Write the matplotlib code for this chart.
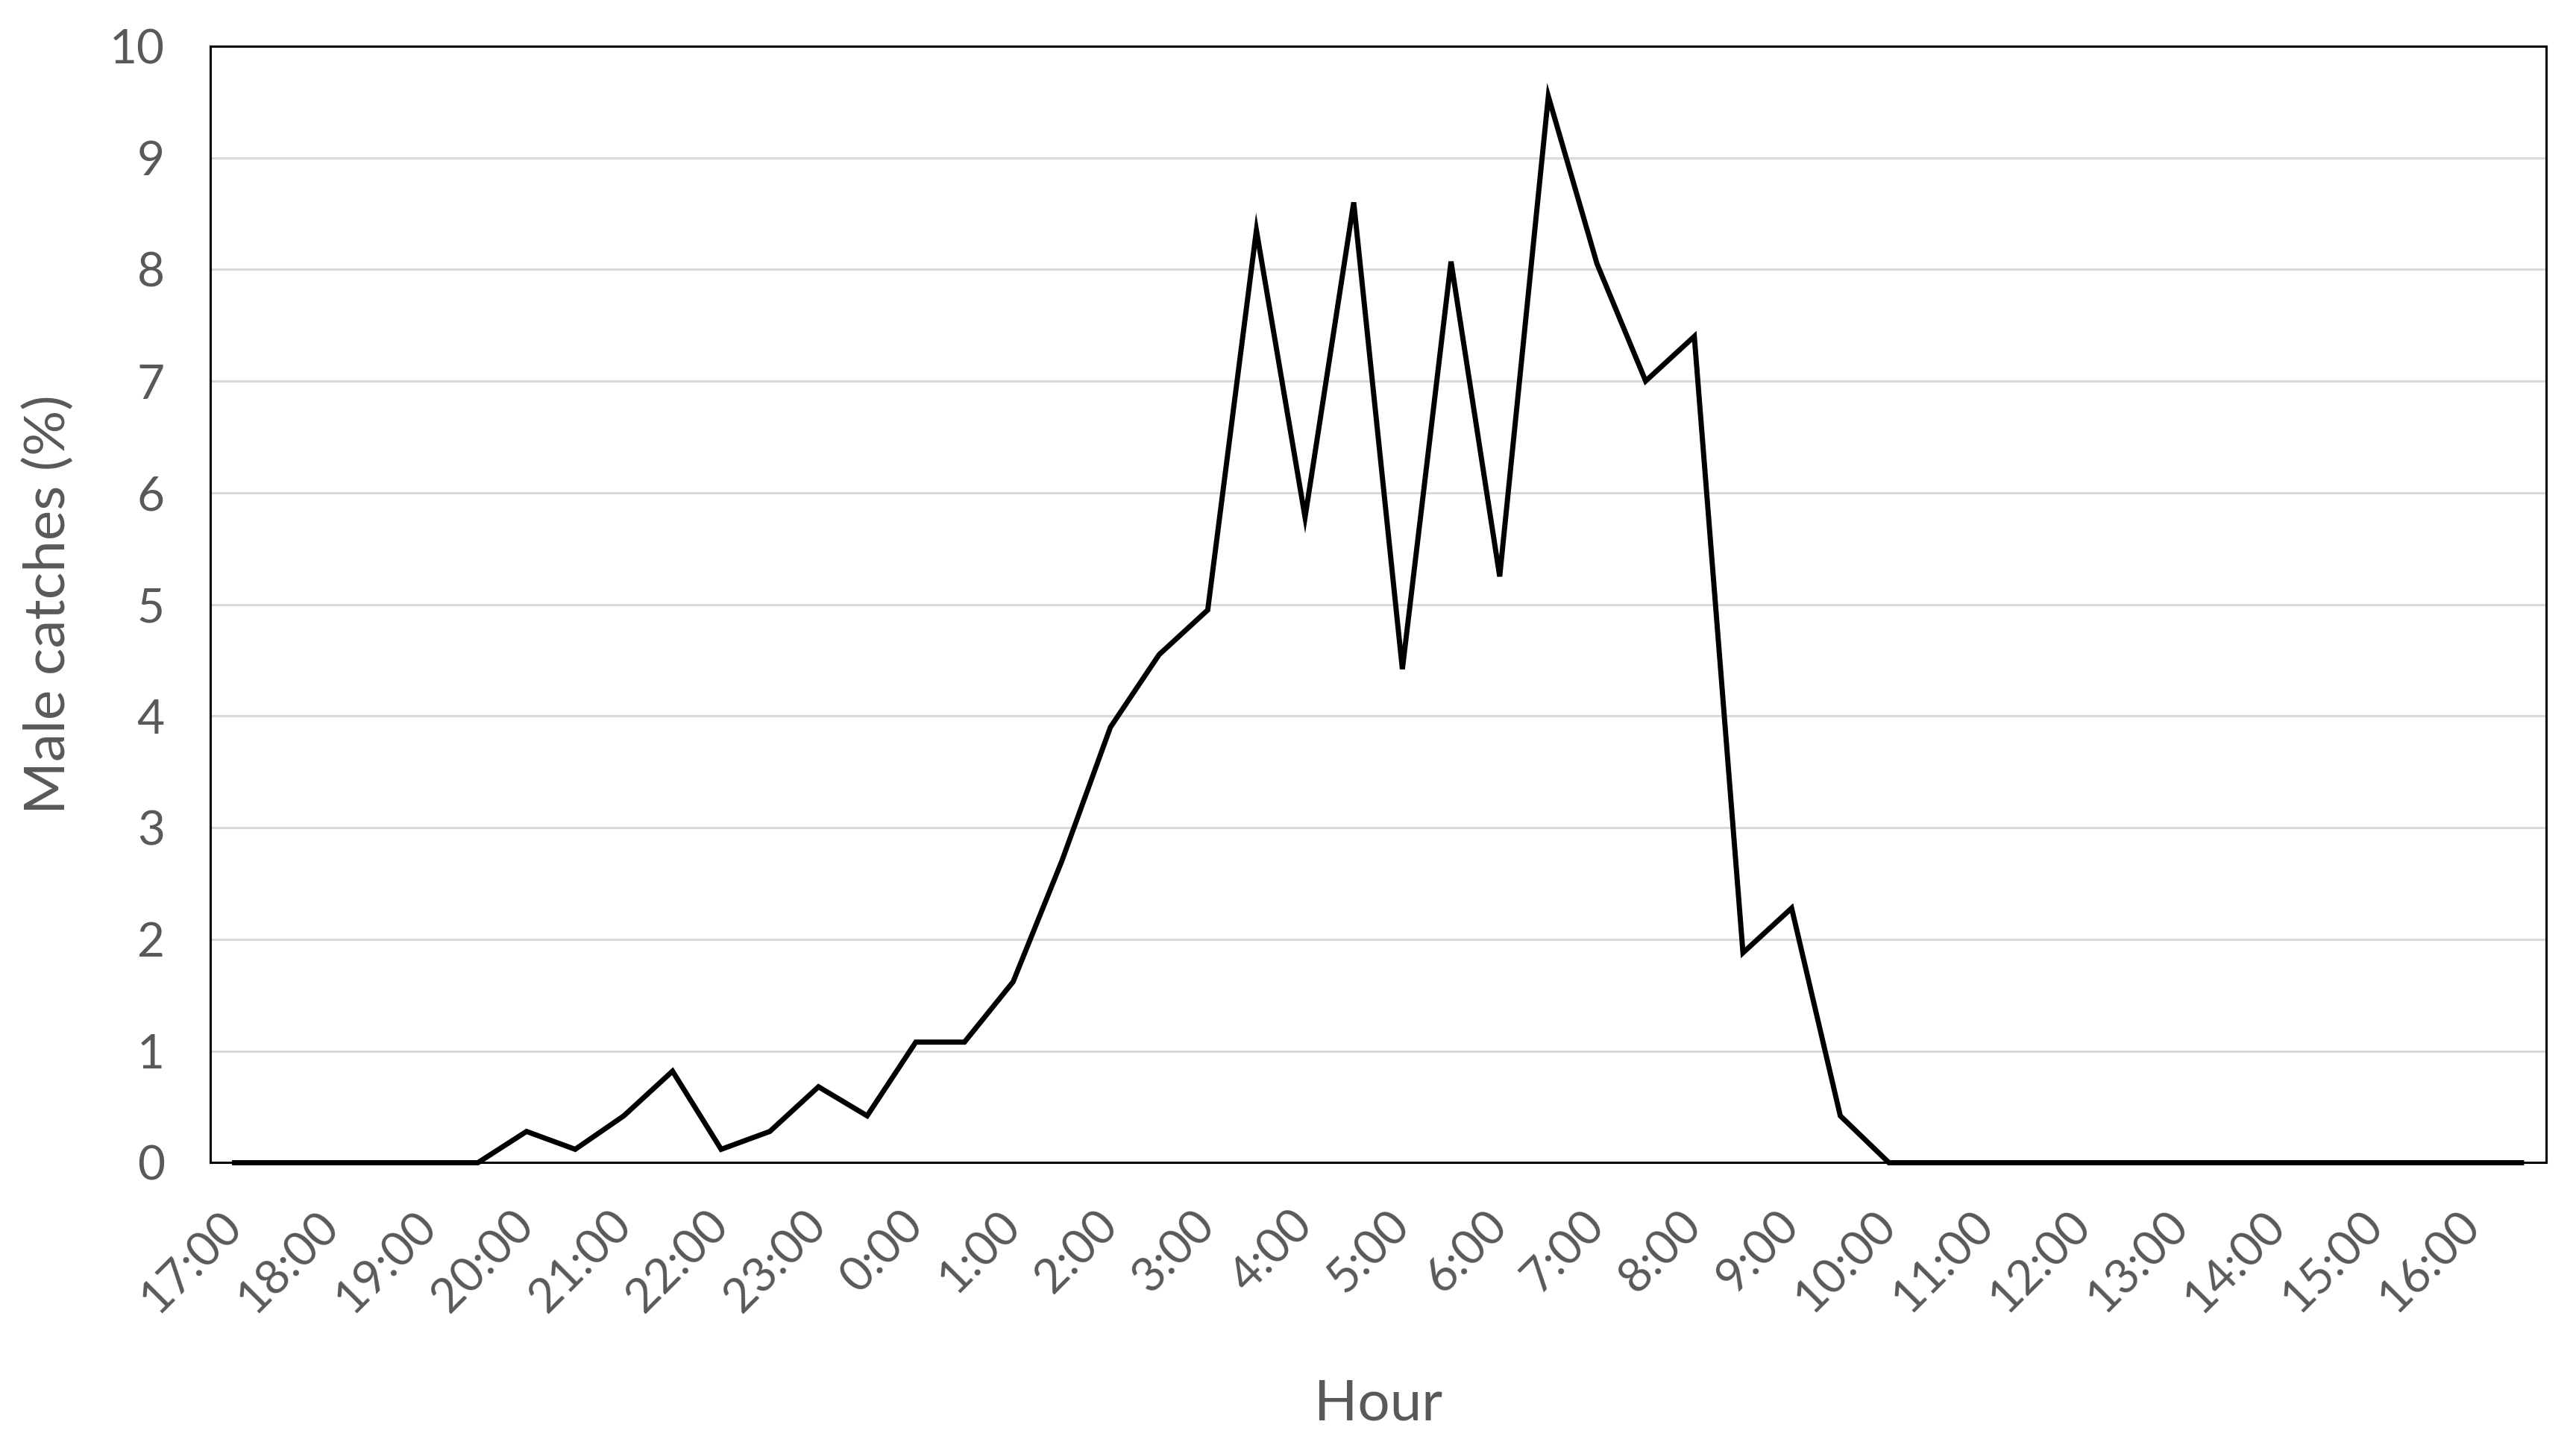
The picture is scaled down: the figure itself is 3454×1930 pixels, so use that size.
import numpy as np
import matplotlib.pyplot as plt

# half-hour slots from 17:00 to 16:30
slots = np.arange(48)
male_catches = [0, 0, 0, 0, 0, 0, 0.28, 0.12, 0.42, 0.82,
                0.12, 0.28, 0.68, 0.42, 1.08, 1.08, 1.62, 2.70, 3.90, 4.55,
                4.95, 8.35, 5.78, 8.60, 4.42, 8.07, 5.25, 9.55, 8.05, 7.00,
                7.40, 1.88, 2.28, 0.42, 0, 0, 0, 0, 0, 0,
                0, 0, 0, 0, 0, 0, 0, 0]
hour_labels = ['17:00', '18:00', '19:00', '20:00', '21:00', '22:00', '23:00',
               '0:00', '1:00', '2:00', '3:00', '4:00', '5:00', '6:00', '7:00',
               '8:00', '9:00', '10:00', '11:00', '12:00', '13:00', '14:00',
               '15:00', '16:00']

grey = '#595959'
plt.rcParams['font.family'] = ['Lato', 'DejaVu Sans']

fig = plt.figure(figsize=(34.55, 19.30), dpi=100)
ax = fig.add_axes([0.0816, 0.192, 0.9064, 0.776])

ax.plot(slots, male_catches, color='black', lw=5, solid_joinstyle='miter', clip_on=False, zorder=3)

ax.set_xlim(-0.5, 47.5)
ax.set_ylim(0, 10)
ax.set_yticks(range(0, 11))
ax.set_xticks(slots[::2])
ax.set_xticklabels(hour_labels, rotation=45, ha='right', va='center', rotation_mode='anchor')
ax.grid(axis='y', color='#d9d9d9', lw=2.2)
ax.set_axisbelow(True)

ax.tick_params(axis='both', length=0, labelsize=46, labelcolor=grey)
ax.tick_params(axis='y', pad=44)
ax.tick_params(axis='x', pad=54)
for s in ax.spines.values():
    s.set_color('black')
    s.set_linewidth(2.2)

ax.set_xlabel('Hour', fontsize=55, color=grey, labelpad=56)
ax.set_ylabel('Male catches (%)', fontsize=55, color=grey, labelpad=34)

fig.savefig('out.png', dpi=100, facecolor='white')
